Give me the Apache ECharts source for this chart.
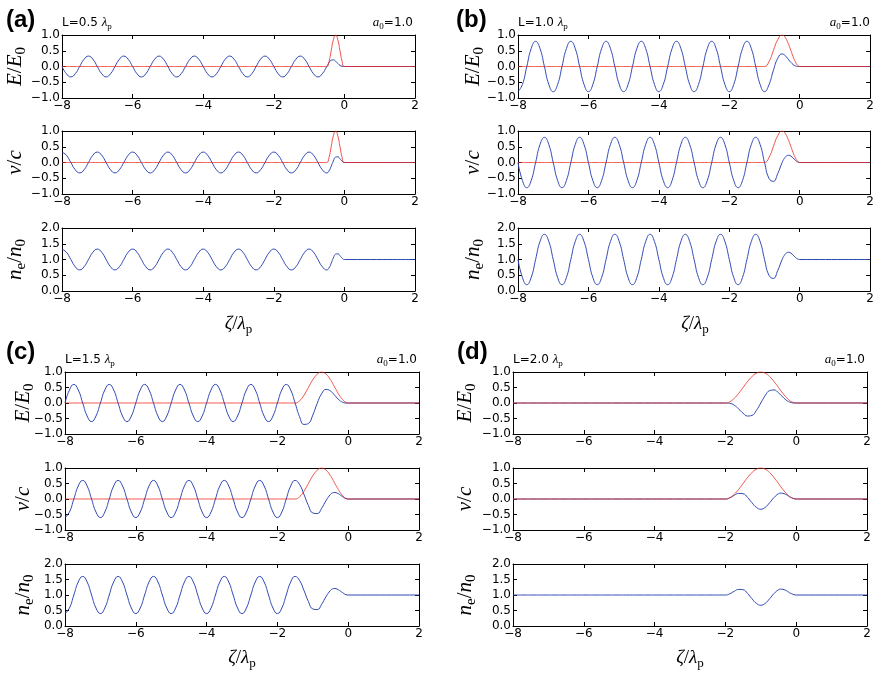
<!DOCTYPE html>
<html>
<head>
<meta charset="utf-8">
<script src="https://cdn.jsdelivr.net/npm/echarts@6/dist/echarts.min.js"></script>
<style>
html, body { margin: 0; padding: 0; background: #fff; }
#chart { width: 877px; height: 677px; }
</style>
</head>
<body>
<div id="chart"></div>
<script>
// Co-moving coordinate zeta / lambda_p (coarse behind the pulse, finer inside the last half wavelength)
const zeta = [
  -8, -7.875, -7.75, -7.625, -7.5, -7.375, -7.25, -7.125,
  -7, -6.875, -6.75, -6.625, -6.5, -6.375, -6.25, -6.125,
  -6, -5.875, -5.75, -5.625, -5.5, -5.375, -5.25, -5.125,
  -5, -4.875, -4.75, -4.625, -4.5, -4.375, -4.25, -4.125,
  -4, -3.875, -3.75, -3.625, -3.5, -3.375, -3.25, -3.125,
  -3, -2.875, -2.75, -2.625, -2.5, -2.375, -2.25, -2.125,
  -2, -1.875, -1.75, -1.625, -1.5, -1.375, -1.25, -1.125,
  -1, -0.875, -0.75, -0.625, -0.5,
  -0.4375, -0.375, -0.3125, -0.25, -0.1875, -0.125, -0.0625, 0,
  2
];

// ---- L = 0.5 lambda_p ----
const pulseA = [
  0, 0, 0, 0, 0, 0, 0, 0,
  0, 0, 0, 0, 0, 0, 0, 0,
  0, 0, 0, 0, 0, 0, 0, 0,
  0, 0, 0, 0, 0, 0, 0, 0,
  0, 0, 0, 0, 0, 0, 0, 0,
  0, 0, 0, 0, 0, 0, 0, 0,
  0, 0, 0, 0, 0, 0, 0, 0,
  0, 0, 0, 0, 0,
  0.15, 0.5, 0.85, 1, 0.85, 0.5, 0.15, 0,
  0
];
const fieldA = [
  0, -0.23, -0.33, -0.23, 0, 0.23, 0.33, 0.23,
  0, -0.23, -0.33, -0.23, 0, 0.23, 0.33, 0.23,
  0, -0.23, -0.33, -0.23, 0, 0.23, 0.33, 0.23,
  0, -0.23, -0.33, -0.23, 0, 0.23, 0.33, 0.23,
  0, -0.23, -0.33, -0.23, 0, 0.23, 0.33, 0.23,
  0, -0.23, -0.33, -0.23, 0, 0.23, 0.33, 0.23,
  0, -0.23, -0.33, -0.23, 0, 0.23, 0.33, 0.23,
  0, -0.23, -0.33, -0.23, 0,
  0.12, 0.2, 0.21, 0.17, 0.095, 0.035, 0.005, 0,
  0
];
const velA = [
  0.33, 0.23, 0, -0.23, -0.33, -0.23, 0, 0.23,
  0.33, 0.23, 0, -0.23, -0.33, -0.23, 0, 0.23,
  0.33, 0.23, 0, -0.23, -0.33, -0.23, 0, 0.23,
  0.33, 0.23, 0, -0.23, -0.33, -0.23, 0, 0.23,
  0.33, 0.23, 0, -0.23, -0.33, -0.23, 0, 0.23,
  0.33, 0.23, 0, -0.23, -0.33, -0.23, 0, 0.23,
  0.33, 0.23, 0, -0.23, -0.33, -0.23, 0, 0.23,
  0.33, 0.23, 0, -0.23, -0.33,
  -0.27, -0.12, 0.05, 0.17, 0.18, 0.12, 0.04, 0,
  0
];
const densA = [
  1.33, 1.23, 1, 0.77, 0.67, 0.77, 1, 1.23,
  1.33, 1.23, 1, 0.77, 0.67, 0.77, 1, 1.23,
  1.33, 1.23, 1, 0.77, 0.67, 0.77, 1, 1.23,
  1.33, 1.23, 1, 0.77, 0.67, 0.77, 1, 1.23,
  1.33, 1.23, 1, 0.77, 0.67, 0.77, 1, 1.23,
  1.33, 1.23, 1, 0.77, 0.67, 0.77, 1, 1.23,
  1.33, 1.23, 1, 0.77, 0.67, 0.77, 1, 1.23,
  1.33, 1.23, 1, 0.77, 0.67,
  0.73, 0.88, 1.05, 1.17, 1.18, 1.12, 1.04, 1,
  1
];

// ---- L = 1.0 lambda_p ----
const pulseB = [
  0, 0, 0, 0, 0, 0, 0, 0,
  0, 0, 0, 0, 0, 0, 0, 0,
  0, 0, 0, 0, 0, 0, 0, 0,
  0, 0, 0, 0, 0, 0, 0, 0,
  0, 0, 0, 0, 0, 0, 0, 0,
  0, 0, 0, 0, 0, 0, 0, 0,
  0, 0, 0, 0, 0, 0, 0, 0,
  0, 0.15, 0.5, 0.85, 1,
  0.96, 0.85, 0.69, 0.5, 0.31, 0.15, 0.04, 0,
  0
];
const fieldB = [
  -0.8, -0.57, 0, 0.57, 0.8, 0.57, 0, -0.57,
  -0.8, -0.57, 0, 0.57, 0.8, 0.57, 0, -0.57,
  -0.8, -0.57, 0, 0.57, 0.8, 0.57, 0, -0.57,
  -0.8, -0.57, 0, 0.57, 0.8, 0.57, 0, -0.57,
  -0.8, -0.57, 0, 0.57, 0.8, 0.57, 0, -0.57,
  -0.8, -0.57, 0, 0.57, 0.8, 0.57, 0, -0.57,
  -0.8, -0.57, 0, 0.57, 0.8, 0.57, 0, -0.57,
  -0.8, -0.58, -0.13, 0.26, 0.4,
  0.37, 0.3, 0.21, 0.13, 0.06, 0.02, 0, 0,
  0
];
const velB = [
  0, -0.57, -0.8, -0.57, 0, 0.57, 0.8, 0.57,
  0, -0.57, -0.8, -0.57, 0, 0.57, 0.8, 0.57,
  0, -0.57, -0.8, -0.57, 0, 0.57, 0.8, 0.57,
  0, -0.57, -0.8, -0.57, 0, 0.57, 0.8, 0.57,
  0, -0.57, -0.8, -0.57, 0, 0.57, 0.8, 0.57,
  0, -0.57, -0.8, -0.57, 0, 0.57, 0.8, 0.57,
  0, -0.57, -0.8, -0.57, 0, 0.57, 0.8, 0.57,
  0, -0.5, -0.6, -0.35, 0,
  0.13, 0.21, 0.23, 0.2, 0.14, 0.07, 0.02, 0,
  0
];
const densB = [
  1, 0.43, 0.2, 0.43, 1, 1.57, 1.8, 1.57,
  1, 0.43, 0.2, 0.43, 1, 1.57, 1.8, 1.57,
  1, 0.43, 0.2, 0.43, 1, 1.57, 1.8, 1.57,
  1, 0.43, 0.2, 0.43, 1, 1.57, 1.8, 1.57,
  1, 0.43, 0.2, 0.43, 1, 1.57, 1.8, 1.57,
  1, 0.43, 0.2, 0.43, 1, 1.57, 1.8, 1.57,
  1, 0.43, 0.2, 0.43, 1, 1.57, 1.8, 1.57,
  1, 0.5, 0.4, 0.65, 1,
  1.13, 1.21, 1.23, 1.2, 1.14, 1.07, 1.02, 1,
  1
];

// ---- L = 1.5 lambda_p ----
const pulseC = [
  0, 0, 0, 0, 0, 0, 0, 0,
  0, 0, 0, 0, 0, 0, 0, 0,
  0, 0, 0, 0, 0, 0, 0, 0,
  0, 0, 0, 0, 0, 0, 0, 0,
  0, 0, 0, 0, 0, 0, 0, 0,
  0, 0, 0, 0, 0, 0, 0, 0,
  0, 0, 0, 0, 0, 0.07, 0.25, 0.5,
  0.75, 0.93, 1, 0.93, 0.75,
  0.63, 0.5, 0.37, 0.25, 0.15, 0.07, 0.02, 0,
  0
];
const fieldC = [
  0, 0.42, 0.6, 0.42, 0, -0.42, -0.6, -0.42,
  0, 0.42, 0.6, 0.42, 0, -0.42, -0.6, -0.42,
  0, 0.42, 0.6, 0.42, 0, -0.42, -0.6, -0.42,
  0, 0.42, 0.6, 0.42, 0, -0.42, -0.6, -0.42,
  0, 0.42, 0.6, 0.42, 0, -0.42, -0.6, -0.42,
  0, 0.42, 0.6, 0.42, 0, -0.42, -0.6, -0.42,
  0, 0.42, 0.6, 0.42, 0, -0.44, -0.69, -0.66,
  -0.39, -0.01, 0.3, 0.44, 0.39,
  0.32, 0.24, 0.16, 0.09, 0.04, 0.01, 0, 0,
  0
];
const velC = [
  -0.6, -0.42, 0, 0.42, 0.6, 0.42, 0, -0.42,
  -0.6, -0.42, 0, 0.42, 0.6, 0.42, 0, -0.42,
  -0.6, -0.42, 0, 0.42, 0.6, 0.42, 0, -0.42,
  -0.6, -0.42, 0, 0.42, 0.6, 0.42, 0, -0.42,
  -0.6, -0.42, 0, 0.42, 0.6, 0.42, 0, -0.42,
  -0.6, -0.42, 0, 0.42, 0.6, 0.42, 0, -0.42,
  -0.6, -0.42, 0, 0.42, 0.6, 0.47, 0.15, -0.21,
  -0.45, -0.47, -0.3, -0.05, 0.15,
  0.2, 0.21, 0.19, 0.15, 0.1, 0.05, 0.01, 0,
  0
];
const densC = [
  0.4, 0.58, 1, 1.42, 1.6, 1.42, 1, 0.58,
  0.4, 0.58, 1, 1.42, 1.6, 1.42, 1, 0.58,
  0.4, 0.58, 1, 1.42, 1.6, 1.42, 1, 0.58,
  0.4, 0.58, 1, 1.42, 1.6, 1.42, 1, 0.58,
  0.4, 0.58, 1, 1.42, 1.6, 1.42, 1, 0.58,
  0.4, 0.58, 1, 1.42, 1.6, 1.42, 1, 0.58,
  0.4, 0.58, 1, 1.42, 1.6, 1.47, 1.15, 0.79,
  0.55, 0.53, 0.7, 0.95, 1.15,
  1.2, 1.21, 1.19, 1.15, 1.1, 1.05, 1.01, 1,
  1
];

// ---- L = 2.0 lambda_p ----
const pulseD = [
  0, 0, 0, 0, 0, 0, 0, 0,
  0, 0, 0, 0, 0, 0, 0, 0,
  0, 0, 0, 0, 0, 0, 0, 0,
  0, 0, 0, 0, 0, 0, 0, 0,
  0, 0, 0, 0, 0, 0, 0, 0,
  0, 0, 0, 0, 0, 0, 0, 0,
  0, 0.04, 0.15, 0.31, 0.5, 0.69, 0.85, 0.96,
  1, 0.96, 0.85, 0.69, 0.5,
  0.4, 0.31, 0.22, 0.15, 0.08, 0.04, 0.01, 0,
  0
];
const fieldD = [
  0, 0, 0, 0, 0, 0, 0, 0,
  0, 0, 0, 0, 0, 0, 0, 0,
  0, 0, 0, 0, 0, 0, 0, 0,
  0, 0, 0, 0, 0, 0, 0, 0,
  0, 0, 0, 0, 0, 0, 0, 0,
  0, 0, 0, 0, 0, 0, 0, 0,
  0, -0.01, -0.07, -0.19, -0.33, -0.42, -0.4, -0.24,
  0, 0.24, 0.4, 0.42, 0.33,
  0.26, 0.19, 0.12, 0.07, 0.03, 0.01, 0, 0,
  0
];
const velD = [
  0, 0, 0, 0, 0, 0, 0, 0,
  0, 0, 0, 0, 0, 0, 0, 0,
  0, 0, 0, 0, 0, 0, 0, 0,
  0, 0, 0, 0, 0, 0, 0, 0,
  0, 0, 0, 0, 0, 0, 0, 0,
  0, 0, 0, 0, 0, 0, 0, 0,
  0, 0.04, 0.12, 0.18, 0.17, 0.05, -0.12, -0.27,
  -0.33, -0.27, -0.12, 0.05, 0.17,
  0.19, 0.18, 0.16, 0.12, 0.07, 0.04, 0.01, 0,
  0
];
const densD = [
  1, 1, 1, 1, 1, 1, 1, 1,
  1, 1, 1, 1, 1, 1, 1, 1,
  1, 1, 1, 1, 1, 1, 1, 1,
  1, 1, 1, 1, 1, 1, 1, 1,
  1, 1, 1, 1, 1, 1, 1, 1,
  1, 1, 1, 1, 1, 1, 1, 1,
  1, 1.04, 1.12, 1.18, 1.17, 1.05, 0.88, 0.73,
  0.67, 0.73, 0.88, 1.05, 1.17,
  1.19, 1.18, 1.16, 1.12, 1.07, 1.04, 1.01, 1,
  1
];

const panelTags = ['(a)', '(b)', '(c)', '(d)'];
const pulseLengths = ['0.5', '1.0', '1.5', '2.0'];
const amplitudeText = '=1.0';
const xTicks = { min: -8, max: 2, step: 2 };
const fieldTicks = { min: -1, max: 1, step: 0.5 };
const densTicks = { min: 0, max: 2, step: 0.5 };

const panelSeries = [
  { pulse: pulseA, field: fieldA, vel: velA, dens: densA },
  { pulse: pulseB, field: fieldB, vel: velB, dens: densB },
  { pulse: pulseC, field: fieldC, vel: velC, dens: densC },
  { pulse: pulseD, field: fieldD, vel: velD, dens: densD }
];

// Page layout of the four panels (pixels)
const layout = [
  { left: 62,  width: 353, tops: [35, 131, 228],  h: 63, nameX: 16,  tagX: 6,   tagY: 20,  xNameY: 325 },
  { left: 518, width: 354, tops: [35, 131, 228],  h: 63, nameX: 474, tagX: 456, tagY: 20,  xNameY: 325 },
  { left: 65,  width: 354, tops: [372, 468, 564], h: 62, nameX: 24,  tagX: 6,   tagY: 352, xNameY: 659 },
  { left: 513, width: 354, tops: [372, 468, 564], h: 62, nameX: 466, tagX: 457, tagY: 352, xNameY: 659 }
];

const BLUE = '#2f49b4';
const RED = '#ec2a22';
const SANS = 'DejaVu Sans';
const SERIF = 'Liberation Serif';
const TICK_FONT = 12;

const minus = s => String(s).replace('-', '\u2212');

function mathRich(size, sansSize) {
  const sub = Math.round(size * 0.7);
  return {
    it:  { fontFamily: SERIF, fontStyle: 'italic', fontSize: size, lineHeight: size + 2, verticalAlign: 'top', fill: '#000', color: '#000' },
    up:  { fontFamily: SERIF, fontSize: size, lineHeight: size + 2, verticalAlign: 'top', fill: '#000', color: '#000' },
    sub: { fontFamily: SERIF, fontSize: sub, lineHeight: sub, verticalAlign: 'top', padding: [Math.round(size * 0.45), 0, 0, 0], fill: '#000', color: '#000' },
    sans:{ fontFamily: SANS, fontSize: sansSize || 11, lineHeight: size + 2, verticalAlign: 'top', fill: '#000', color: '#000' }
  };
}

function textEl(x, y, text, rich, align, vAlign, rotation) {
  return {
    type: 'text', x: x, y: y, rotation: rotation || 0, z: 10,
    style: {
      text: text, rich: rich, fill: '#000',
      align: align, verticalAlign: vAlign,
      textAlign: align, textVerticalAlign: vAlign
    }
  };
}

const grids = [], xAxes = [], yAxes = [], series = [], graphics = [];
const yNames = ['{it|E}{up|/}{it|E}{sub|0}', '{it|v}{up|/}{it|c}', '{it|n}{sub|e}{up|/}{it|n}{sub|0}'];

layout.forEach((lay, p) => {
  const s = panelSeries[p];
  const rows = [
    { ticks: fieldTicks, lines: [[s.field, BLUE], [s.pulse, RED]] },
    { ticks: fieldTicks, lines: [[s.vel, BLUE], [s.pulse, RED]] },
    { ticks: densTicks,  lines: [[s.dens, BLUE]] }
  ];
  rows.forEach((row, r) => {
    const g = grids.length;
    grids.push({ left: lay.left, top: lay.tops[r], width: lay.width, height: lay.h, containLabel: false });
    const axisLine = { show: true, onZero: false, lineStyle: { color: '#000', width: 1 } };
    const tick = { show: true, inside: true, length: 4, lineStyle: { color: '#000', width: 1 } };
    const label = { show: true, color: '#000', fontFamily: SANS, fontSize: TICK_FONT };
    xAxes.push({
      gridIndex: g, type: 'value', position: 'bottom',
      min: xTicks.min, max: xTicks.max, interval: xTicks.step,
      axisLine: axisLine, axisTick: tick, splitLine: { show: false },
      axisLabel: Object.assign({}, label, { margin: 2, formatter: v => minus(v) })
    });
    xAxes.push({
      gridIndex: g, type: 'value', position: 'top',
      min: xTicks.min, max: xTicks.max, interval: xTicks.step,
      axisLine: axisLine, axisTick: tick, splitLine: { show: false }, axisLabel: { show: false }
    });
    yAxes.push({
      gridIndex: g, type: 'value', position: 'left',
      min: row.ticks.min, max: row.ticks.max, interval: row.ticks.step,
      axisLine: axisLine, axisTick: tick, splitLine: { show: false },
      axisLabel: Object.assign({}, label, { margin: 2, formatter: v => minus(v.toFixed(1)) })
    });
    yAxes.push({
      gridIndex: g, type: 'value', position: 'right',
      min: row.ticks.min, max: row.ticks.max, interval: row.ticks.step,
      axisLine: axisLine, axisTick: tick, splitLine: { show: false }, axisLabel: { show: false }
    });
    row.lines.forEach(([values, color], k) => {
      series.push({
        type: 'line', xAxisIndex: 2 * g, yAxisIndex: 2 * g,
        data: zeta.map((z, i) => [z, values[i]]),
        smooth: 0.5, showSymbol: false, symbol: 'none', silent: true,
        lineStyle: { color: color, width: 1, opacity: k === 1 ? 0.8 : 1 },
        z: 2 + k, animation: false
      });
    });
    // y-axis title
    graphics.push(textEl(lay.nameX, lay.tops[r] + lay.h / 2, yNames[r], mathRich(21), 'center', 'middle', Math.PI / 2));
  });

  // panel tag, pulse length and a0 annotations
  graphics.push({
    type: 'text', x: lay.tagX, y: lay.tagY, z: 10,
    style: { text: panelTags[p], fill: '#000', font: 'bold 24px "Liberation Sans"',
             align: 'left', verticalAlign: 'middle', textAlign: 'left', textVerticalAlign: 'middle' }
  });
  graphics.push(textEl(lay.left, lay.tops[0] - 11,
    '{sans|L=' + pulseLengths[p] + ' }{it|λ}{sub|p}', mathRich(13, 12), 'left', 'middle'));
  graphics.push(textEl(lay.left + lay.width - 2, lay.tops[0] - 11,
    '{it|a}{sub|0}{sans|' + amplitudeText + '}', mathRich(13, 12), 'right', 'middle'));
  // x-axis title under the density plot
  graphics.push(textEl(lay.left + lay.width / 2, lay.xNameY, '{it|ζ}{up|/}{it|λ}{sub|p}', mathRich(19), 'center', 'middle'));
});

const chart = echarts.init(document.getElementById('chart'), null, { renderer: 'canvas' });
chart.setOption({
  animation: false,
  backgroundColor: '#fff',
  grid: grids,
  xAxis: xAxes,
  yAxis: yAxes,
  series: series,
  graphic: { elements: graphics }
});
</script>
</body>
</html>
